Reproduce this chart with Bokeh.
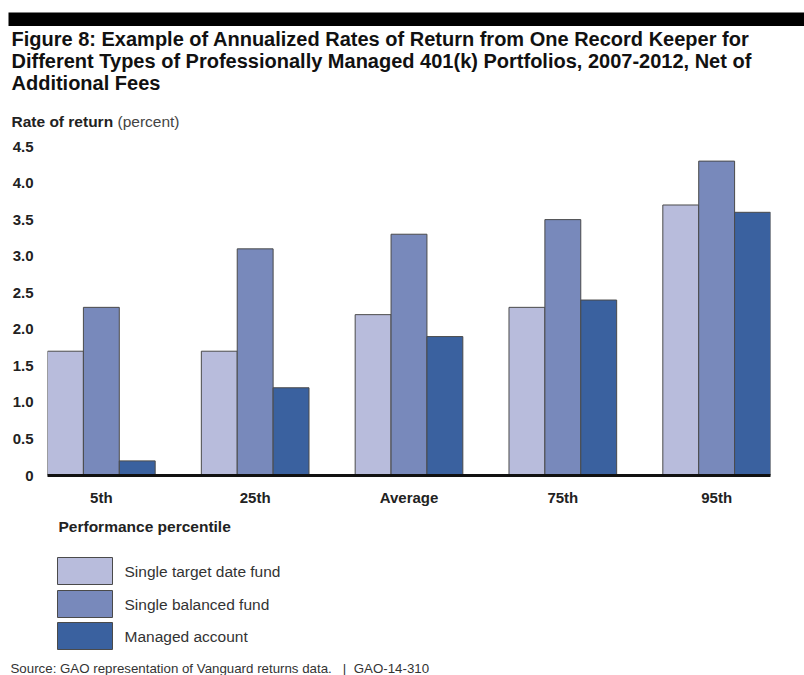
from bokeh.plotting import figure
from bokeh.models import FactorRange, Range1d, FixedTicker, ColumnDataSource
from bokeh.layouts import column
from bokeh.core.properties import value
from bokeh.transform import dodge
from bokeh.embed import file_html
from bokeh.resources import INLINE

# ---- data ----
categories = ["5th", "25th", "Average", "75th", "95th"]
target_date = [1.7, 1.7, 2.2, 2.3, 3.7]
balanced = [2.3, 3.1, 3.3, 3.5, 4.3]
managed = [0.2, 1.2, 1.9, 2.4, 3.6]
series_names = ["Single target date fund", "Single balanced fund", "Managed account"]
y_ticks = [0, 0.5, 1.0, 1.5, 2.0, 2.5, 3.0, 3.5, 4.0, 4.5]
y_tick_labels = ["0", "0.5", "1.0", "1.5", "2.0", "2.5", "3.0", "3.5", "4.0", "4.5"]

title_lines = [
    "Figure 8: Example of Annualized Rates of Return from One Record Keeper for",
    "Different Types of Professionally Managed 401(k) Portfolios, 2007-2012, Net of",
    "Additional Fees",
]
y_title_bold = "Rate of return"
y_title_unit = "(percent)"
x_title = "Performance percentile"
source_text = "Source: GAO representation of Vanguard returns data.\u00a0\u00a0 |\u00a0 GAO-14-310"

colors = ["#b8bcdc", "#7889bb", "#3a619f"]
FONT = "Liberation Sans"
W = 804
H_TOP, H_MAIN, H_BOT = 130, 385, 160
DY = -6  # baseline correction for text glyphs


def blank(h):
    f = figure(width=W, height=h, output_backend="svg", toolbar_location=None,
               x_range=Range1d(0, W), y_range=Range1d(h, 0),
               x_axis_location=None, y_axis_location=None)
    f.min_border_left = f.min_border_right = f.min_border_top = f.min_border_bottom = 0
    f.frame_align = False
    f.outline_line_color = None
    f.xgrid.visible = False
    f.ygrid.visible = False
    return f


def txt(f, x, y, t, size, style="normal", color="#111111", baseline="alphabetic"):
    f.text(x=[x], y=[y], text=[t], text_font=value(FONT), text_font_size=size,
           text_font_style=style, text_color=color, text_baseline=baseline,
           text_align="left")


# ---- top: band + title ----
top = blank(H_TOP)
top.quad(left=[8], right=[W], top=[12], bottom=[25.5], fill_color="black", line_color=None)
for i, t in enumerate(title_lines):
    txt(top, 11, 44 + 22 * i + DY, t, "20px", "bold", "#111111")
txt(top, 11, 126.5 + DY, y_title_bold, "15.5px", "bold", "#222222")
txt(top, 117, 126.5 + DY, y_title_unit, "15.5px", "normal", "#444444")

# ---- main chart ----
src = ColumnDataSource(dict(cat=categories, a=target_date, b=balanced, c=managed))
p = figure(width=W, height=H_MAIN, output_backend="svg", toolbar_location=None,
           x_range=FactorRange(factors=categories, range_padding=-0.15,
                               range_padding_units="absolute"),
           y_range=Range1d(0, 4.5))
p.frame_align = False
p.min_border_left = 47
p.min_border_right = 34
p.min_border_top = 16
p.min_border_bottom = 40
p.outline_line_color = None
p.xgrid.visible = False
p.ygrid.visible = False

bw = 0.7 / 3
for col, off, color in zip(["a", "b", "c"], [-bw, 0, bw], colors):
    p.vbar(x=dodge("cat", off, range=p.x_range), top=col, width=bw, bottom=0,
           source=src, fill_color=color, line_color="#4a4a4a", line_width=1)

xa = p.xaxis[0]
xa.axis_line_width = 3
xa.axis_line_color = "#111111"
xa.major_tick_line_color = None
xa.minor_tick_line_color = None
xa.major_label_text_font = FONT
xa.major_label_text_font_style = "bold"
xa.major_label_text_font_size = "15px"
xa.major_label_text_color = "#222222"
xa.major_label_standoff = 7

ya = p.yaxis[0]
ya.axis_line_color = None
ya.major_tick_line_color = None
ya.minor_tick_line_color = None
ya.ticker = FixedTicker(ticks=y_ticks)
ya.major_label_overrides = {t: l for t, l in zip(y_ticks, y_tick_labels)}
ya.major_label_text_font = FONT
ya.major_label_text_font_style = "bold"
ya.major_label_text_font_size = "15px"
ya.major_label_text_color = "#222222"
ya.major_label_standoff = 8

# ---- bottom: axis title, legend, source ----
bot = blank(H_BOT)
y0 = 515
txt(bot, 58, 532 - y0 + DY, x_title, "15.5px", "bold", "#222222")
sw_top = [557 - y0, 590 - y0, 622 - y0]
sw_h = 27
bot.quad(left=[57] * 3, right=[112] * 3, top=sw_top, bottom=[t + sw_h for t in sw_top],
         fill_color=colors, line_color="#4a4a4a", line_width=1)
for t, n in zip(sw_top, series_names):
    txt(bot, 124, t + sw_h / 2, n, "15.5px", "normal", "#333333", baseline="middle")
txt(bot, 10, 674 - y0 + DY, source_text, "13.3px", "normal", "#333333")

layout = column(top, p, bot, spacing=0)
open("out.html", "w").write(file_html(layout, INLINE))
